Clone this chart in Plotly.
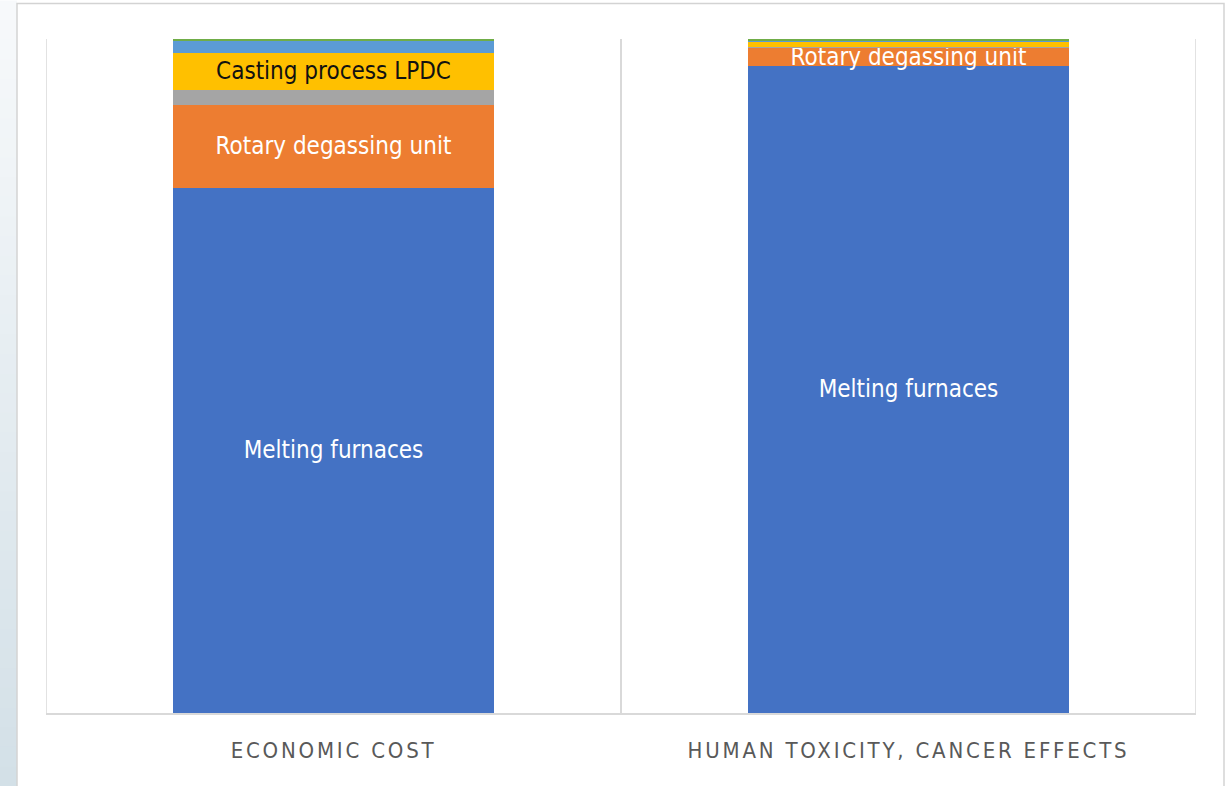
import plotly.graph_objects as go

# ---- data (share of total, %) ----
categories = ["ECONOMIC COST", "HUMAN TOXICITY, CANCER EFFECTS"]

melting_furnaces = [77.9, 96.0]
rotary_degassing = [12.35, 2.76]
other_grey = [2.22, 0.04]
casting_lpdc = [5.49, 0.85]
other_lightblue = [1.72, 0.05]
other_green = [0.32, 0.30]

melting_labels = ["Melting furnaces", "Melting furnaces"]
rotary_labels = ["Rotary degassing unit", "Rotary degassing unit"]
casting_labels = ["Casting process LPDC", ""]

# ---- styling ----
W, H = 1226, 786
PLOT_L, PLOT_R, PLOT_T, PLOT_B = 46, 1196, 38.5, 713
LABEL_FONT = "Liberation Sans Narrow, DejaVu Sans Condensed, Arial Narrow, sans-serif"
COLORS = {
    "blue": "#4472C4",
    "orange": "#ED7D31",
    "grey": "#A5A5A5",
    "yellow": "#FFC000",
    "lightblue": "#5B9BD5",
    "green": "#70AD47",
}
GRID = "#d9d9d9"


def px_x(px):
    return (px - PLOT_L) / (PLOT_R - PLOT_L)


def px_y(py):
    return (PLOT_B - py) / (PLOT_B - PLOT_T)


def bar(name, values, color, labels=None, text_color="white"):
    kw = dict(textposition="none")
    if labels is not None:
        kw = dict(
            text=labels,
            textposition="inside",
            insidetextanchor="middle",
            insidetextfont=dict(family=LABEL_FONT, size=24, color=text_color),
            constraintext="none",
        )
    return go.Bar(
        name=name,
        x=categories,
        y=values,
        marker=dict(color=color, line=dict(width=0)),
        showlegend=False,
        hoverinfo="name+y",
        **kw,
    )


fig = go.Figure()
fig.add_trace(bar("Melting furnaces", melting_furnaces, COLORS["blue"], melting_labels))
fig.add_trace(bar("Rotary degassing unit", rotary_degassing, COLORS["orange"], rotary_labels))
fig.add_trace(bar("Other process A", other_grey, COLORS["grey"]))
fig.add_trace(bar("Casting process LPDC", casting_lpdc, COLORS["yellow"], casting_labels, "#111111"))
fig.add_trace(bar("Other process B", other_lightblue, COLORS["lightblue"]))
fig.add_trace(bar("Other process C", other_green, COLORS["green"]))

# page background: bluish gradient strip on the left, white card with a thin border
shapes = []
n_bands = 40
top_rgb = (247, 249, 251)
bot_rgb = (211, 224, 231)
for i in range(n_bands):
    f = i / (n_bands - 1)
    c = tuple(round(top_rgb[k] + (bot_rgb[k] - top_rgb[k]) * f) for k in range(3))
    y0 = H * i / n_bands
    y1 = H * (i + 1) / n_bands + 1
    shapes.append(dict(
        type="rect", xref="paper", yref="paper", layer="below",
        x0=px_x(-2), x1=px_x(17), y0=px_y(y1), y1=px_y(y0),
        fillcolor="rgb(%d,%d,%d)" % c, line=dict(width=0),
    ))
shapes.append(dict(
    type="rect", xref="paper", yref="paper", layer="below",
    x0=px_x(17), x1=px_x(1224), y0=px_y(H + 5), y1=px_y(3),
    fillcolor="white", line=dict(color="#d3d3d3", width=1.5),
))
# outer category boundary lines (left and right edges of the plot area)
for xb in (-0.5, 1.5):
    shapes.append(dict(
        type="line", xref="x", yref="y", layer="below",
        x0=xb, x1=xb, y0=0, y1=100,
        line=dict(color=GRID, width=1.5),
    ))

fig.update_layout(
    width=W,
    height=H,
    margin=dict(l=PLOT_L, r=W - PLOT_R, t=PLOT_T, b=H - PLOT_B, pad=0),
    barmode="stack",
    bargap=0.443,
    paper_bgcolor="white",
    plot_bgcolor="rgba(0,0,0,0)",
    uniformtext=dict(mode="show", minsize=24),
    shapes=shapes,
    xaxis=dict(
        type="category",
        range=[-0.5, 1.5],
        tickson="boundaries",
        showgrid=True,
        gridcolor=GRID,
        gridwidth=1.5,
        showline=True,
        linecolor=GRID,
        linewidth=1.5,
        ticks="",
        ticklabelstandoff=17,
        tickfont=dict(family=LABEL_FONT, size=22, color="#595959"),
        zeroline=False,
        fixedrange=True,
    ),
    yaxis=dict(
        range=[0, 100],
        visible=False,
        showgrid=False,
        fixedrange=True,
    ),
)

# wide letter spacing on the category labels
post_js = (
    "document.querySelectorAll('.xtick text').forEach(function(t){"
    "t.setAttribute('letter-spacing','2.8px');});"
)

fig.write_html("out.html", post_script=post_js, config={"displayModeBar": False})
